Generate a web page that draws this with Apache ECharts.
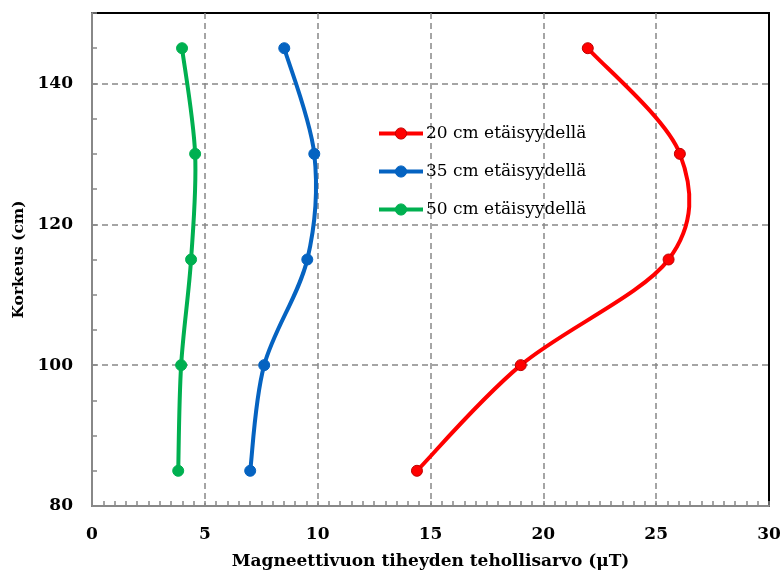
<!DOCTYPE html>
<html>
<head>
<meta charset="utf-8">
<script src="https://cdn.jsdelivr.net/npm/echarts@6/dist/echarts.min.js"></script>
<style>
  html, body { margin: 0; padding: 0; background: #fff; }
  #chart { width: 781px; height: 572px; }
</style>
</head>
<body>
<div id="chart"></div>
<script>
// Heights (cm) at which the field was measured
const heights = [85, 100, 115, 130, 145];
// RMS magnetic flux density (µT) at each height, per distance
const dist20 = [14.4, 19.0, 25.55, 26.05, 21.97];
const dist35 = [7.01, 7.63, 9.54, 9.85, 8.52];
const dist50 = [3.82, 3.95, 4.39, 4.57, 3.99];
const seriesNames = ['20 cm etäisyydellä', '35 cm etäisyydellä', '50 cm etäisyydellä'];
const seriesColors = ['#FF0000', '#0563C1', '#00B050'];
const markerBorders = ['#C00000', '#0563C1', '#00B050'];
const yLabelValues = [80, 100, 120, 140];

const FONT = '"DejaVu Serif", "Liberation Serif", serif';

function pairs(xs) {
  return xs.map((x, i) => [x, heights[i]]);
}

// Catmull-Rom style smoothed curve through the points, in pixel space
function curveRenderer(points, color) {
  return function (params, api) {
    if (params.dataIndex !== 0) return null;
    const p = points.map(pt => api.coord(pt));
    const children = [];
    for (let i = 0; i < p.length - 1; i++) {
      const p0 = p[i - 1] || p[i];
      const p1 = p[i];
      const p2 = p[i + 1];
      const p3 = p[i + 2] || p[i + 1];
      children.push({
        type: 'bezierCurve',
        shape: {
          x1: p1[0], y1: p1[1],
          cpx1: p1[0] + (p2[0] - p0[0]) / 6, cpy1: p1[1] + (p2[1] - p0[1]) / 6,
          cpx2: p2[0] - (p3[0] - p1[0]) / 6, cpy2: p2[1] - (p3[1] - p1[1]) / 6,
          x2: p2[0], y2: p2[1]
        },
        style: { stroke: color, lineWidth: 4, fill: null, lineCap: 'round', lineJoin: 'round' }
      });
    }
    return { type: 'group', children: children };
  };
}

const chart = echarts.init(document.getElementById('chart'), null, { renderer: 'canvas' });

const allValues = [dist20, dist35, dist50];

const markerSeries = allValues.map((vals, i) => ({
  name: seriesNames[i],
  type: 'line',
  data: pairs(vals),
  symbol: 'circle',
  symbolSize: 11,
  showSymbol: true,
  lineStyle: { width: 4, color: seriesColors[i], opacity: 0 },
  itemStyle: { color: seriesColors[i], borderColor: markerBorders[i], borderWidth: 1 },
  z: 6
}));

const curveSeries = allValues.map((vals, i) => {
  const pts = pairs(vals);
  return {
    name: seriesNames[i],
    type: 'custom',
    data: pts,
    renderItem: curveRenderer(pts, seriesColors[i]),
    z: 4,
    silent: true
  };
});

const dashed = { color: '#888', type: [6, 4], width: 1.5 };

chart.setOption({
  animation: false,
  backgroundColor: '#fff',
  grid: {
    left: 92, right: 12, top: 13, bottom: 66,
    outerBoundsMode: 'none',
    show: true, borderColor: '#000', borderWidth: 2, backgroundColor: 'transparent'
  },
  legend: {
    orient: 'vertical',
    left: 377, top: 123,
    padding: 0,
    itemWidth: 44, itemHeight: 14,
    itemGap: 17,
    textStyle: { fontFamily: FONT, fontSize: 17, lineHeight: 21, color: '#000', padding: [0, 0, 0, -2] },
    data: seriesNames.map((n, i) => ({
      name: n,
      itemStyle: { color: seriesColors[i], borderColor: markerBorders[i], borderWidth: 1 },
      lineStyle: { color: seriesColors[i], width: 4, opacity: 1 }
    }))
  },
  xAxis: [{
    type: 'value',
    min: 0, max: 30, interval: 5,
    name: 'Magneettivuon tiheyden tehollisarvo (μT)',
    nameLocation: 'middle',
    nameGap: 47,
    nameTextStyle: { fontFamily: FONT, fontSize: 17, fontWeight: 'bold', color: '#000' },
    axisLine: { show: true, lineStyle: { color: '#888', width: 2 } },
    axisTick: { show: true, inside: true, length: 5, lineStyle: { color: '#888', width: 1.5 } },
    minorTick: { show: true, splitNumber: 10, length: 5, lineStyle: { color: '#888', width: 1.5 } },
    axisLabel: { margin: 20, fontFamily: FONT, fontSize: 17, fontWeight: 'bold', color: '#000' },
    splitLine: { show: true, showMinLine: false, showMaxLine: false, lineStyle: dashed }
  }],
  yAxis: [{
    type: 'value',
    min: 80, max: 150, interval: 5,
    name: 'Korkeus (cm)',
    nameLocation: 'middle',
    nameGap: 60,
    nameRotate: 90,
    nameTextStyle: { fontFamily: FONT, fontSize: 15.5, fontWeight: 'bold', color: '#000' },
    axisLine: { show: true, lineStyle: { color: '#888', width: 2 } },
    axisTick: { show: true, inside: true, length: 5, lineStyle: { color: '#888', width: 1.5 } },
    axisLabel: {
      margin: 19, fontFamily: FONT, fontSize: 17, fontWeight: 'bold', color: '#000',
      formatter: v => (yLabelValues.indexOf(v) >= 0 ? String(v) : '')
    },
    splitLine: { show: false }
  }, {
    // gridlines at the labelled heights only
    type: 'value',
    position: 'left',
    min: 80, max: 150, interval: 20,
    axisLine: { show: false },
    axisTick: { show: false },
    axisLabel: { show: false },
    splitLine: { show: true, showMinLine: false, showMaxLine: false, lineStyle: dashed }
  }],
  series: markerSeries.concat(curveSeries)
});
</script>
</body>
</html>
